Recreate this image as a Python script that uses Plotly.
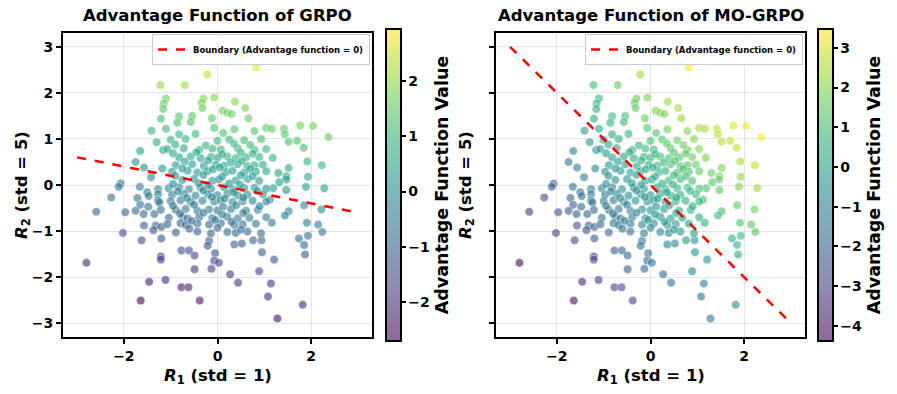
import numpy as np
import plotly.graph_objects as go
import plotly.express as px

# ---- data (R1 on x, R2 scaled on y) ----
r1 = [-1.22,-1.10,-1.15,-1.16,-1.21,-1.41,-1.10,0.50,0.82,-0.22,-0.70,-0.30,-0.07,-0.34,-0.32,0.37,0.11,0.21,0.30,0.59,
      -0.82,-0.54,-0.12,0.66,-0.86,-0.57,-0.82,-0.47,-0.07,0.12,0.36,0.79,1.04,1.16,1.42,1.44,1.77,2.04,2.37,
      1.52,1.70,1.84,1.18,1.92,2.23,1.52,1.30,1.47,1.47,1.93,1.32,1.19,1.47,1.89,2.28,1.12,1.85,2.22,1.52,1.44,1.16,1.91,2.15,2.24,1.93,1.74,
      1.85,1.87,1.21,1.14,1.08,1.82,1.28,
      -0.18,-0.21,0.36,0.52,0.76,0.94,-0.77,-0.61,-0.49,-0.05,0.95,-0.07,0.03,-0.49,-0.13,0.27,0.89,0.44,-1.11,-0.77,-0.62,-0.38,
      -1.62,-1.20,-2.80,-1.21,-1.21,-1.46,-1.64,
      -1.30,-1.65,-1.16,-1.75,-1.57,-1.18,-1.42,-2.07,-2.11,-1.66,-1.27,-1.50,-1.47,-2.27,-1.71,-1.27,-1.27,-1.65,-1.48,-1.24,
      -2.59,-1.97,-1.75,-1.58,-1.35,-1.21,-1.57,-1.32,-1.37,-1.20,-2.02,
      -1.00,-0.68,0.00,0.25,0.57,0.93,
      -1.07,-0.72,-0.39,-0.11,0.07,0.43,0.79,1.04,
      -0.82,-0.57,-0.36,-0.14,0.00,0.21,0.39,0.61,0.89,
      -0.89,-0.54,-0.29,-0.04,0.14,0.43,0.64,0.79,0.97,
      -0.97,-0.64,-0.43,-0.21,0.18,0.32,0.57,0.82,1.04,
      -0.75,-0.50,-0.11,0.03,0.39,0.64,0.89,
      -1.04,-0.82,-0.61,-0.36,-0.14,0.14,0.32,0.57,0.79,1.04,
      -0.97,-0.72,-0.47,-0.21,0.00,0.21,0.43,0.64,0.97,
      -1.00,-0.79,-0.57,-0.32,-0.07,0.07,0.32,0.54,0.75,1.04,
      -0.89,-0.68,-0.43,-0.18,0.00,0.29,0.61,0.86,
      -1.04,-0.75,-0.64,-0.39,-0.11,0.21,0.43,0.68,1.04,
      -1.07,-0.79,-0.68,-0.43,-0.18,0.07,0.36,0.54,0.82,
      -0.89,-0.43,-0.14,0.21,0.39,0.64,0.93,
      -0.90,-0.25,0.35,0.70,
      -0.95,-0.45,0.10,0.50,0.75,
      -0.70,-0.20,0.28,0.52,
      -0.75,-0.10,0.05,0.70,
      -0.90,-0.30,0.10,0.50,0.75,
      -0.95,-0.40,-0.20,0.25,0.48,
      -0.85,-0.30,0.35,0.85,
      -0.65,-0.12,0.15,0.55,
      -0.95,-0.50,0.12,0.40,0.90,
      -0.80,-0.30,0.10,0.55,
      -0.55,-0.05,0.30,
      -0.60,0.00,0.50]
r2 = [2.17,1.88,1.77,1.65,1.44,1.18,1.22,2.84,2.56,2.40,2.17,1.88,1.90,1.79,1.67,1.81,1.61,1.57,1.54,1.67,
      1.49,1.50,1.45,1.45,1.35,1.37,1.10,1.11,1.24,1.13,1.21,1.17,1.24,1.22,1.22,1.10,1.29,1.28,1.04,
      0.94,0.96,0.81,0.59,0.51,0.43,0.37,0.26,0.19,0.12,0.18,0.06,-0.07,-0.11,-0.04,-0.07,-0.32,-0.44,-0.53,-0.57,-0.66,-0.82,-0.82,-0.86,-1.02,-1.10,-1.16,
      -1.30,-1.51,-1.62,-2.14,-2.42,-2.60,-2.90,
      -1.21,-1.32,-1.29,-1.27,-1.20,-1.20,-1.42,-1.42,-1.53,-1.48,-1.46,-1.64,-1.69,-1.83,-1.82,-1.94,-1.87,-2.12,-2.06,-2.22,-2.22,-2.51,
      -1.20,-1.16,-1.69,-1.55,-1.62,-2.10,-2.51,
      0.93,0.74,0.76,0.50,0.38,0.36,0.17,0.03,-0.04,-0.04,-0.09,-0.16,-0.24,-0.27,-0.28,-0.20,-0.34,-0.43,-0.47,-0.38,
      -0.58,-0.59,-0.56,-0.63,-0.63,-0.54,-0.88,-0.88,-0.98,-0.91,-1.04,
      0.98,1.00,0.96,0.99,0.97,1.00,
      0.78,0.80,0.76,0.79,0.77,0.80,0.76,0.78,
      0.60,0.62,0.58,0.61,0.59,0.62,0.58,0.60,0.61,
      0.43,0.45,0.41,0.44,0.42,0.45,0.41,0.43,0.44,
      0.29,0.31,0.27,0.30,0.28,0.31,0.27,0.29,0.30,
      0.11,0.13,0.09,0.12,0.10,0.13,0.09,
      -0.07,-0.05,-0.09,-0.06,-0.08,-0.05,-0.09,-0.07,-0.06,-0.08,
      -0.21,-0.19,-0.23,-0.20,-0.22,-0.19,-0.23,-0.21,-0.20,
      -0.35,-0.33,-0.37,-0.34,-0.36,-0.33,-0.37,-0.35,-0.34,-0.36,
      -0.54,-0.52,-0.56,-0.53,-0.55,-0.52,-0.56,-0.54,
      -0.71,-0.69,-0.73,-0.70,-0.72,-0.69,-0.73,-0.71,-0.70,
      -0.85,-0.83,-0.87,-0.84,-0.86,-0.83,-0.87,-0.85,-0.84,
      -1.03,-1.01,-1.05,-1.02,-1.04,-1.01,-1.05,
      0.88,0.86,0.90,0.87,
      0.69,0.71,0.67,0.70,0.68,
      0.51,0.53,0.49,0.52,
      0.36,0.34,0.38,0.35,
      0.20,0.22,0.18,0.21,0.19,
      0.02,0.04,0.00,0.03,0.01,
      -0.14,-0.12,-0.16,-0.13,
      -0.28,-0.26,-0.30,-0.27,
      -0.45,-0.43,-0.47,-0.44,-0.46,
      -0.62,-0.60,-0.64,-0.61,
      -0.78,-0.76,-0.80,
      -0.95,-0.93,-0.97]

r2_scale = 5  # std of R2 relative to R1

boundary_x = [-3, 3]
grpo_boundary_y = [0.6, -0.6]
mo_boundary_y = [3, -3]

x_ticks = [-2, 0, 2]
x_ticktext = ["\u22122", "0", "2"]
y_ticks = [-3, -2, -1, 0, 1, 2, 3]
y_ticktext = ["\u22123", "\u22122", "\u22121", "0", "1", "2", "3"]
cb1_ticks = [-2, -1, 0, 1, 2]
cb1_text = ["\u22122", "\u22121", "0", "1", "2"]
cb2_ticks = [-4, -3, -2, -1, 0, 1, 2, 3]
cb2_text = ["\u22124", "\u22123", "\u22122", "\u22121", "0", "1", "2", "3"]

# ---- advantages (derived from the points) ----
x = np.array(r1)
y = np.array(r2)
s = x + r2_scale * y
adv_grpo = (s - s.mean()) / s.std()
adv_mo = (x - x.mean()) / x.std() + (y - y.mean()) / y.std()


def rgba(hexc, a):
    hexc = hexc.lstrip("#")
    r, g, b = int(hexc[0:2], 16), int(hexc[2:4], 16), int(hexc[4:6], 16)
    return f"rgba({r},{g},{b},{a})"

vir = px.colors.sequential.Viridis
cscale = [[i / (len(vir) - 1), rgba(c, 0.6)] for i, c in enumerate(vir)]

W, H = 897, 394
FONT = "DejaVu Sans"

def fx(p):
    return p / W

def fy(p):
    return 1 - p / H

ax1 = (63, 372)
ax2 = (496, 805)
ay = (33, 337)

fig = go.Figure()

def cbar(xpx, tv, tt):
    return dict(
        x=fx(xpx), xanchor="left", xref="paper", xpad=0, ypad=0,
        y=fy(185), yanchor="middle", yref="paper",
        len=312 / H, lenmode="fraction",
        thickness=15, outlinecolor="black", outlinewidth=2,
        ticks="outside", ticklen=4, tickwidth=1.5, tickcolor="black",
        tickvals=tv, ticktext=tt,
        tickfont=dict(family=FONT, size=14, color="black", weight="bold"),
        title=dict(text="Advantage Function Value", side="right",
                   font=dict(family=FONT, size=17.5, color="black", weight="bold")),
    )

fig.add_trace(go.Scatter(
    x=x, y=y, mode="markers", showlegend=False,
    marker=dict(size=8.5, color=adv_grpo, colorscale=cscale, showscale=True,
                line=dict(width=0.8, color="rgba(255,255,255,0.6)"),
                colorbar=cbar(386, cb1_ticks, cb1_text)),
    xaxis="x", yaxis="y"))
fig.add_trace(go.Scatter(
    x=boundary_x, y=grpo_boundary_y, mode="lines", name="Boundary (Advantage function = 0)",
    line=dict(color="red", width=2.5, dash="dash"), xaxis="x", yaxis="y", legend="legend"))

fig.add_trace(go.Scatter(
    x=x, y=y, mode="markers", showlegend=False,
    marker=dict(size=8.5, color=adv_mo, colorscale=cscale, showscale=True,
                line=dict(width=0.8, color="rgba(255,255,255,0.6)"),
                colorbar=cbar(818, cb2_ticks, cb2_text)),
    xaxis="x2", yaxis="y2"))
fig.add_trace(go.Scatter(
    x=boundary_x, y=mo_boundary_y, mode="lines", name="Boundary (Advantage function = 0)",
    line=dict(color="red", width=2.5, dash="dash"), xaxis="x2", yaxis="y2", legend="legend2"))

axis_common = dict(
    showgrid=True, gridcolor="rgba(0,0,0,0.1)", gridwidth=1, zeroline=False,
    showline=True, linecolor="black", linewidth=2, mirror=True,
    ticks="outside", ticklen=5, tickwidth=1.5, tickcolor="black",
    tickfont=dict(family=FONT, size=14, color="black", weight="bold"),
)

legend_common = dict(
    xanchor="right", yanchor="top",
    bgcolor="rgba(255,255,255,0.8)", bordercolor="#cccccc", borderwidth=1,
    font=dict(family=FONT, size=8.5, color="black", weight="bold"),
    itemwidth=30, tracegroupgap=0,
)

fig.update_layout(
    width=W, height=H, margin=dict(l=0, r=0, t=0, b=0, autoexpand=False),
    paper_bgcolor="white", plot_bgcolor="white",
    font=dict(family=FONT, color="black"),
    xaxis=dict(domain=[fx(ax1[0]), fx(ax1[1])], range=[-3.3, 3.3], tickvals=x_ticks, ticktext=x_ticktext, anchor="y", **axis_common),
    yaxis=dict(domain=[fy(ay[1]), fy(ay[0])], range=[-3.3, 3.3], tickvals=y_ticks, ticktext=y_ticktext, anchor="x", **axis_common),
    xaxis2=dict(domain=[fx(ax2[0]), fx(ax2[1])], range=[-3.3, 3.3], tickvals=x_ticks, ticktext=x_ticktext, anchor="y2", **axis_common),
    yaxis2=dict(domain=[fy(ay[1]), fy(ay[0])], range=[-3.3, 3.3], tickvals=y_ticks, showticklabels=False, anchor="x2", **axis_common),
    legend=dict(x=fx(ax1[1] - 2), y=fy(ay[0] + 1), **legend_common),
    legend2=dict(x=fx(ax2[1] - 2), y=fy(ay[0] + 1), **legend_common),
)

def ann(text, xp, yp, size, angle=0):
    fig.add_annotation(text=text, x=fx(xp), y=fy(yp), xref="paper", yref="paper",
                       showarrow=False, textangle=angle, xanchor="center", yanchor="middle",
                       font=dict(family=FONT, size=size, color="black", weight="bold"))

ann("Advantage Function of GRPO", (ax1[0] + ax1[1]) / 2, 15, 16.5)
ann("Advantage Function of MO-GRPO", (ax2[0] + ax2[1]) / 2, 15, 16.5)
ann("<i>R</i><sub>1</sub> (std = 1)", (ax1[0] + ax1[1]) / 2, 376, 16.5)
ann("<i>R</i><sub>1</sub> (std = 1)", (ax2[0] + ax2[1]) / 2, 376, 16.5)
ann("<i>R</i><sub>2</sub> (std = 5)", 22, (ay[0] + ay[1]) / 2, 16.5, -90)
ann("<i>R</i><sub>2</sub> (std = 5)", 466, (ay[0] + ay[1]) / 2, 16.5, -90)

fig.write_html("out.html", config={"displayModeBar": False},
               post_script="document.body.style.margin='0';document.body.style.overflow='hidden';")
